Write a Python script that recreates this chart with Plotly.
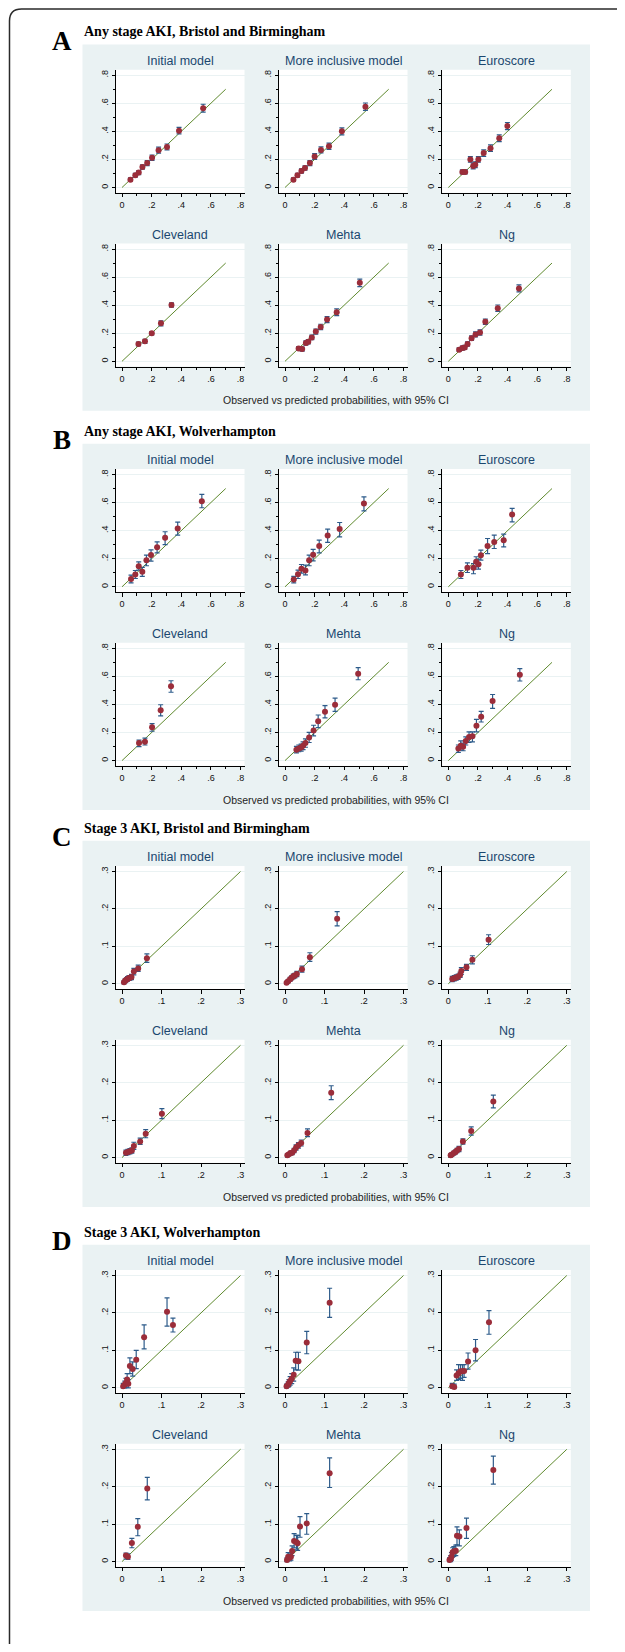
import plotly.graph_objects as go

# ---------------- DATA ----------------
panel_letters = ["A", "B", "C", "D"]
panel_titles = ["Any stage AKI, Bristol and Birmingham",
                "Any stage AKI, Wolverhampton",
                "Stage 3 AKI, Bristol and Birmingham",
                "Stage 3 AKI, Wolverhampton"]
model_names = ["Initial model", "More inclusive model", "Euroscore",
               "Cleveland", "Mehta", "Ng"]
caption = "Observed vs predicted probabilities, with 95% CI"

axis_max = [0.8, 0.8, 0.3, 0.3]
diag_max = [0.7, 0.7, 0.3, 0.3]
tick_vals_ab = [0, 0.2, 0.4, 0.6, 0.8]
tick_text_ab = ["0", ".2", ".4", ".6", ".8"]
minor_vals_ab = [0.1, 0.3, 0.5, 0.7]
tick_vals_cd = [0, 0.1, 0.2, 0.3]
tick_text_cd = ["0", ".1", ".2", ".3"]

# ---- Panel A: Any stage AKI, Bristol and Birmingham
a_initial_x = [.057, .090, .113, .138, .170, .203, .247, .304, .385, .548]
a_initial_y = [.056, .087, .106, .146, .174, .212, .266, .289, .405, .565]
a_initial_lo = [.045, .074, .092, .130, .156, .193, .245, .268, .382, .537]
a_initial_hi = [.068, .100, .120, .162, .192, .231, .287, .310, .428, .593]

a_inclusive_x = [.057, .084, .111, .135, .168, .200, .243, .297, .384, .543]
a_inclusive_y = [.056, .087, .118, .139, .174, .221, .268, .294, .400, .576]
a_inclusive_lo = [.045, .074, .103, .123, .156, .200, .246, .272, .375, .550]
a_inclusive_hi = [.068, .100, .133, .155, .192, .242, .290, .316, .425, .602]

a_euro_x = [.095, .114, .149, .168, .182, .203, .239, .285, .344, .399]
a_euro_y = [.111, .111, .200, .153, .162, .200, .245, .280, .351, .438]
a_euro_lo = [.097, .097, .180, .133, .142, .180, .222, .257, .327, .413]
a_euro_hi = [.125, .125, .220, .173, .182, .220, .268, .303, .375, .463]

a_cleve_x = [.111, .155, .201, .263, .334]
a_cleve_y = [.123, .142, .200, .271, .401]
a_cleve_lo = [.110, .127, .188, .253, .385]
a_cleve_hi = [.136, .157, .212, .289, .417]

a_mehta_x = [.092, .116, .141, .157, .181, .208, .241, .284, .349, .505]
a_mehta_y = [.092, .087, .130, .139, .170, .212, .245, .297, .349, .559]
a_mehta_lo = [.080, .073, .115, .124, .154, .194, .226, .276, .325, .532]
a_mehta_hi = [.104, .101, .145, .154, .186, .230, .264, .318, .373, .586]

a_ng_x = [.073, .095, .111, .130, .157, .184, .214, .250, .334, .477]
a_ng_y = [.083, .094, .099, .123, .165, .191, .205, .281, .378, .519]
a_ng_lo = [.070, .080, .085, .108, .149, .173, .186, .262, .355, .494]
a_ng_hi = [.096, .108, .113, .138, .181, .209, .224, .300, .401, .544]

# ---- Panel B: Any stage AKI, Wolverhampton
b_initial_x = [.061, .090, .113, .137, .165, .196, .237, .291, .376, .539]
b_initial_y = [.055, .088, .147, .107, .190, .226, .282, .349, .415, .610]
b_initial_lo = [.028, .059, .119, .074, .150, .183, .242, .301, .368, .563]
b_initial_hi = [.083, .116, .178, .138, .226, .263, .320, .392, .461, .658]

b_inclusive_x = [.059, .088, .111, .138, .163, .190, .231, .288, .369, .533]
b_inclusive_y = [.052, .090, .128, .116, .190, .228, .290, .366, .411, .593]
b_inclusive_lo = [.028, .059, .097, .085, .150, .185, .242, .316, .356, .541]
b_inclusive_hi = [.074, .119, .159, .154, .226, .266, .332, .411, .458, .641]

b_euro_x = [.085, .129, .170, .188, .204, .220, .265, .310, .374, .431]
b_euro_y = [.088, .135, .135, .178, .160, .225, .290, .320, .332, .515]
b_euro_lo = [.059, .102, .093, .142, .126, .190, .237, .273, .285, .463]
b_euro_hi = [.116, .171, .166, .214, .197, .261, .344, .368, .375, .558]

b_cleve_x = [.115, .155, .203, .261, .331]
b_cleve_y = [.125, .134, .238, .358, .529]
b_cleve_lo = [.099, .111, .209, .318, .487]
b_cleve_hi = [.146, .160, .264, .398, .569]

b_mehta_x = [.077, .093, .109, .122, .138, .163, .193, .224, .270, .338, .494]
b_mehta_y = [.078, .087, .093, .106, .125, .165, .214, .280, .348, .398, .619]
b_mehta_lo = [.055, .063, .068, .078, .095, .129, .176, .235, .304, .351, .576]
b_mehta_hi = [.101, .111, .118, .134, .155, .201, .252, .325, .392, .445, .662]

b_ng_x = [.068, .084, .100, .118, .140, .163, .190, .222, .299, .483]
b_ng_y = [.087, .106, .099, .139, .169, .174, .249, .313, .424, .612]
b_ng_lo = [.059, .075, .070, .111, .129, .134, .205, .275, .372, .567]
b_ng_hi = [.111, .141, .125, .169, .205, .205, .294, .351, .471, .655]

# ---- Panel C: Stage 3 AKI, Bristol and Birmingham
c_initial_x = [.005, .008, .011, .014, .017, .020, .024, .030, .041, .063]
c_initial_y = [.004, .008, .011, .013, .015, .016, .018, .033, .041, .068]
c_initial_lo = [.000, .003, .006, .007, .009, .010, .011, .024, .033, .057]
c_initial_hi = [.008, .013, .016, .019, .021, .022, .025, .041, .050, .080]

c_inclusive_x = [.004, .008, .013, .017, .021, .025, .030, .043, .063, .132]
c_inclusive_y = [.003, .007, .012, .016, .020, .022, .026, .039, .071, .174]
c_inclusive_lo = [.000, .003, .007, .011, .014, .016, .019, .031, .060, .155]
c_inclusive_hi = [.006, .011, .017, .021, .026, .028, .033, .047, .083, .193]

c_euro_x = [.010, .015, .020, .025, .030, .033, .046, .061, .102]
c_euro_y = [.013, .015, .017, .019, .024, .034, .044, .064, .118]
c_euro_lo = [.006, .008, .010, .012, .017, .025, .036, .053, .105]
c_euro_hi = [.020, .022, .024, .026, .031, .043, .052, .075, .131]

c_cleve_x = [.010, .015, .020, .025, .030, .046, .060, .101]
c_cleve_y = [.013, .015, .017, .019, .031, .043, .064, .117]
c_cleve_lo = [.006, .008, .010, .012, .022, .035, .053, .104]
c_cleve_hi = [.020, .022, .024, .026, .041, .052, .075, .131]

c_mehta_x = [.006, .010, .014, .018, .023, .028, .034, .041, .057, .117]
c_mehta_y = [.006, .009, .012, .013, .019, .027, .033, .039, .066, .173]
c_mehta_lo = [.002, .005, .007, .008, .013, .020, .025, .031, .056, .155]
c_mehta_hi = [.010, .013, .017, .018, .025, .034, .040, .047, .077, .192]

c_ng_x = [.006, .009, .014, .018, .022, .027, .037, .058, .114]
c_ng_y = [.006, .008, .012, .015, .019, .023, .043, .071, .150]
c_ng_lo = [.002, .004, .007, .010, .013, .016, .036, .060, .133]
c_ng_hi = [.010, .012, .017, .020, .025, .030, .050, .082, .167]

# ---- Panel D: Stage 3 AKI, Wolverhampton
d_initial_x = [.003, .007, .010, .013, .016, .020, .027, .036, .056, .114, .129]
d_initial_y = [.004, .009, .013, .022, .011, .058, .050, .075, .135, .203, .168]
d_initial_lo = [.000, .000, .002, .011, .000, .038, .031, .051, .104, .165, .149]
d_initial_hi = [.012, .018, .025, .038, .022, .080, .069, .100, .168, .240, .186]

d_inclusive_x = [.004, .008, .010, .013, .017, .022, .027, .034, .055, .113]
d_inclusive_y = [.004, .009, .013, .018, .024, .035, .072, .071, .121, .227]
d_inclusive_lo = [.000, .002, .004, .007, .011, .018, .048, .047, .091, .188]
d_inclusive_hi = [.010, .016, .022, .030, .038, .053, .095, .095, .151, .266]

d_euro_x = [.010, .015, .021, .026, .031, .036, .040, .050, .069, .103]
d_euro_y = [.004, .002, .033, .039, .044, .044, .045, .070, .100, .175]
d_euro_lo = [.000, .000, .020, .022, .025, .020, .028, .050, .072, .143]
d_euro_hi = [.012, .010, .048, .062, .062, .062, .062, .093, .129, .206]

d_cleve_x = [.010, .015, .025, .040, .064]
d_cleve_y = [.016, .013, .050, .093, .195]
d_cleve_lo = [.007, .006, .037, .069, .165]
d_cleve_hi = [.023, .021, .062, .115, .225]

d_mehta_x = [.005, .008, .012, .015, .018, .023, .029, .032, .038, .055, .113]
d_mehta_y = [.004, .013, .010, .013, .028, .055, .052, .049, .094, .102, .236]
d_mehta_lo = [.000, .004, .002, .004, .016, .037, .033, .030, .065, .073, .198]
d_mehta_hi = [.010, .024, .020, .023, .042, .075, .070, .070, .120, .128, .277]

d_ng_x = [.003, .006, .008, .011, .014, .019, .022, .028, .046, .114]
d_ng_y = [.004, .007, .013, .025, .027, .029, .069, .067, .090, .245]
d_ng_lo = [.000, .000, .004, .012, .014, .016, .045, .042, .062, .207]
d_ng_hi = [.010, .016, .024, .037, .040, .044, .093, .085, .116, .282]

panels = [
    [(a_initial_x, a_initial_y, a_initial_lo, a_initial_hi),
     (a_inclusive_x, a_inclusive_y, a_inclusive_lo, a_inclusive_hi),
     (a_euro_x, a_euro_y, a_euro_lo, a_euro_hi),
     (a_cleve_x, a_cleve_y, a_cleve_lo, a_cleve_hi),
     (a_mehta_x, a_mehta_y, a_mehta_lo, a_mehta_hi),
     (a_ng_x, a_ng_y, a_ng_lo, a_ng_hi)],
    [(b_initial_x, b_initial_y, b_initial_lo, b_initial_hi),
     (b_inclusive_x, b_inclusive_y, b_inclusive_lo, b_inclusive_hi),
     (b_euro_x, b_euro_y, b_euro_lo, b_euro_hi),
     (b_cleve_x, b_cleve_y, b_cleve_lo, b_cleve_hi),
     (b_mehta_x, b_mehta_y, b_mehta_lo, b_mehta_hi),
     (b_ng_x, b_ng_y, b_ng_lo, b_ng_hi)],
    [(c_initial_x, c_initial_y, c_initial_lo, c_initial_hi),
     (c_inclusive_x, c_inclusive_y, c_inclusive_lo, c_inclusive_hi),
     (c_euro_x, c_euro_y, c_euro_lo, c_euro_hi),
     (c_cleve_x, c_cleve_y, c_cleve_lo, c_cleve_hi),
     (c_mehta_x, c_mehta_y, c_mehta_lo, c_mehta_hi),
     (c_ng_x, c_ng_y, c_ng_lo, c_ng_hi)],
    [(d_initial_x, d_initial_y, d_initial_lo, d_initial_hi),
     (d_inclusive_x, d_inclusive_y, d_inclusive_lo, d_inclusive_hi),
     (d_euro_x, d_euro_y, d_euro_lo, d_euro_hi),
     (d_cleve_x, d_cleve_y, d_cleve_lo, d_cleve_hi),
     (d_mehta_x, d_mehta_y, d_mehta_lo, d_mehta_hi),
     (d_ng_x, d_ng_y, d_ng_lo, d_ng_hi)],
]

# ---------------- LAYOUT / STYLE ----------------
WIN_W, WIN_H = 625, 1652
BODY = 8                      # default page margin around the plot div
W, H = WIN_W - 2 * BODY, WIN_H - 2 * BODY
SANS = "Liberation Sans, Arial, sans-serif"
SERIF = "Liberation Serif, Times New Roman, serif"
BG = "#eaf2f3"
TITLE_C = "#1a476f"
MARK_C = "#9b2d3a"
ERR_C = "#2d5b8a"
LINE_C = "#5f8a2e"

def fx(p):
    # window pixel -> paper fraction
    return (p - BODY) / W

def fy(p):
    return 1 - (p - BODY) / H

panel_anchor = [192.7, 592.0, 989.0, 1393.0]   # y px of row-1 x-axis line
row_dy = 173.8
col_left = [116.0, 279.0, 442.3]
plot_w, plot_h = 128.5, 123.0
bg_x0, bg_x1 = 82.5, 590.0

fig = go.Figure()
shapes, annotations = [], []
layout_axes = {}

for p in range(4):
    anc = panel_anchor[p]
    M = axis_max[p]
    shapes.append(dict(type="rect", xref="paper", yref="paper", layer="below",
                       x0=fx(bg_x0), x1=fx(bg_x1), y0=fy(anc + 218), y1=fy(anc - 148.3),
                       fillcolor=BG, line=dict(width=0)))
    annotations.append(dict(text="<b>%s</b>" % panel_letters[p], xref="paper", yref="paper",
                            x=fx(61.5), y=fy(anc - 152), xanchor="center", yanchor="middle",
                            showarrow=False, font=dict(family=SERIF, size=27, color="black")))
    annotations.append(dict(text="<b>%s</b>" % panel_titles[p], xref="paper", yref="paper",
                            x=fx(81.5), y=fy(anc - 161), xanchor="left", yanchor="middle",
                            showarrow=False, font=dict(family=SERIF, size=14, color="black")))
    annotations.append(dict(text=caption, xref="paper", yref="paper",
                            x=fx((bg_x0 + bg_x1) / 2), y=fy(anc + 207.5),
                            xanchor="center", yanchor="middle", showarrow=False,
                            font=dict(family=SANS, size=10.5, color="#1e1e1e")))
    sx = 118.5 / M
    sy = 112.3 / M
    if M > 0.5:
        tv, tt, mv = tick_vals_ab, tick_text_ab, minor_vals_ab
    else:
        tv, tt, mv = tick_vals_cd, tick_text_cd, None
    for k in range(6):
        r, c = divmod(k, 3)
        idx = p * 6 + k + 1
        bottom = anc + r * row_dy
        top = bottom - plot_h
        left = col_left[c]
        right = left + plot_w
        shapes.append(dict(type="rect", xref="paper", yref="paper", layer="below",
                           x0=fx(left), x1=fx(right), y0=fy(bottom), y1=fy(top),
                           fillcolor="white", line=dict(width=0)))
        annotations.append(dict(text=model_names[k], xref="paper", yref="paper",
                                x=fx((left + right) / 2), y=fy(bottom - 132),
                                xanchor="center", yanchor="middle", showarrow=False,
                                font=dict(family=SANS, size=12.5, color=TITLE_C)))
        xname = "xaxis" if idx == 1 else "xaxis%d" % idx
        yname = "yaxis" if idx == 1 else "yaxis%d" % idx
        xa = dict(domain=[fx(left), fx(right)], range=[-6 / sx, M + 4 / sx],
                  anchor="y%d" % idx if idx > 1 else "y",
                  tickvals=tv, ticktext=tt, ticks="outside", ticklen=3.5, tickwidth=1,
                  tickcolor="black", showline=True, linecolor="black", linewidth=1,
                  showgrid=False, zeroline=False,
                  tickfont=dict(family=SANS, size=9, color="#111"))
        ya = dict(domain=[fy(bottom), fy(top)], range=[-5.2 / sy, M + 5.5 / sy],
                  anchor="x%d" % idx if idx > 1 else "x",
                  tickvals=tv, ticktext=tt, ticks="outside", ticklen=3.5, tickwidth=1,
                  tickcolor="black", showline=True, linecolor="black", linewidth=1,
                  showgrid=True, gridcolor=BG, gridwidth=1, zeroline=False, tickangle=-90,
                  tickfont=dict(family=SANS, size=9, color="#111"))
        if mv is not None:
            xa["minor"] = dict(tickvals=mv, ticks="outside", ticklen=2.5, tickcolor="black",
                               showgrid=False)
            ya["minor"] = dict(tickvals=mv, ticks="outside", ticklen=2.5, tickcolor="black",
                               showgrid=False)
        layout_axes[xname] = xa
        layout_axes[yname] = ya

        xs, ys, lo, hi = panels[p][k]
        xr = "x" if idx == 1 else "x%d" % idx
        yr = "y" if idx == 1 else "y%d" % idx
        fig.add_trace(go.Scatter(x=[0, diag_max[p]], y=[0, diag_max[p]], mode="lines",
                                 line=dict(color=LINE_C, width=1), xaxis=xr, yaxis=yr,
                                 showlegend=False, hoverinfo="skip"))
        fig.add_trace(go.Scatter(
            x=xs, y=ys, mode="markers", xaxis=xr, yaxis=yr, showlegend=False,
            marker=dict(color=MARK_C, size=6, line=dict(width=0)),
            error_y=dict(type="data", symmetric=False,
                         array=[h - v for h, v in zip(hi, ys)],
                         arrayminus=[v - l for v, l in zip(ys, lo)],
                         color=ERR_C, thickness=1.2, width=2.5)))

# outer border (top and left edges with a rounded corner)
bx, by, rad = 9.5, 9.0, 12
path = "M %f,%f L %f,%f Q %f,%f %f,%f L %f,%f" % (
    fx(bx), fy(WIN_H), fx(bx), fy(by + rad), fx(bx), fy(by), fx(bx + rad), fy(by),
    fx(WIN_W), fy(by))
shapes.append(dict(type="path", xref="paper", yref="paper", path=path,
                   line=dict(color="#2a2a2a", width=1.5), layer="above"))

fig.update_layout(width=W, height=H, margin=dict(l=0, r=0, t=0, b=0, pad=0),
                  paper_bgcolor="white", plot_bgcolor="white",
                  shapes=shapes, annotations=annotations, showlegend=False,
                  **layout_axes)

fig.write_html("out.html")
